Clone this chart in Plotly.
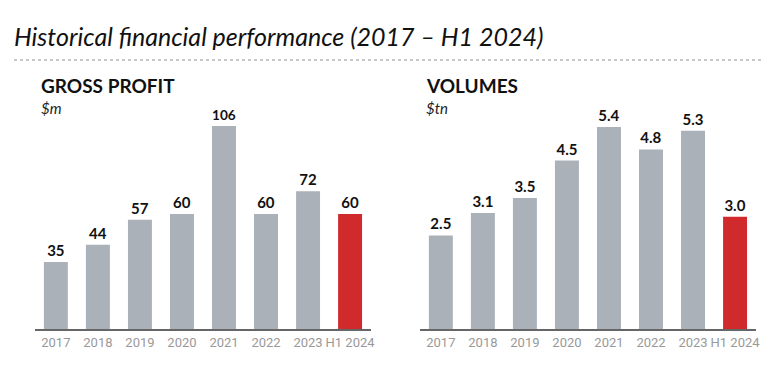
import plotly.graph_objects as go

categories = ["2017", "2018", "2019", "2020", "2021", "2022", "2023", "H1 2024"]
gross_profit = [35, 44, 57, 60, 106, 60, 72, 60]
volumes = [2.5, 3.1, 3.5, 4.5, 5.4, 4.8, 5.3, 3.0]
gp_labels = ["35", "44", "57", "60", "106", "60", "72", "60"]
vol_labels = ["2.5", "3.1", "3.5", "4.5", "5.4", "4.8", "5.3", "3.0"]

GRAY = "#aab1b9"
RED = "#d12a2d"
colors = [GRAY] * 7 + [RED]

OFF = 8  # page body margin
W, H = 772 - OFF, 376 - OFF
def px_x(p): return (p - OFF) / W
def px_y(p): return 1 - (p - OFF) / H

fig = go.Figure()
for vals, labs, xa, ya in [(gross_profit, gp_labels, "x", "y"), (volumes, vol_labels, "x2", "y2")]:
    fig.add_trace(go.Bar(x=categories, y=vals, text=labs, texttemplate="<b>%{text}</b>",
                         marker_color=colors, marker_line_width=0, textposition="outside",
                         cliponaxis=False, textfont=dict(family="Lato", size=15, color="#111"),
                         xaxis=xa, yaxis=ya, hoverinfo="skip"))

ydom = [px_y(329), px_y(100)]
xcommon = dict(type="category", showgrid=False, zeroline=False, showline=True, linecolor="#666",
               linewidth=2, ticks="", tickangle=0,
               tickfont=dict(family="Liberation Sans Narrow, Roboto, Lato", size=13, color="#999"),
               range=[-0.5, 7.5], fixedrange=True)
ycommon = dict(visible=False, showgrid=False, zeroline=False, fixedrange=True, domain=ydom)

fig.update_layout(
    width=W, height=H, margin=dict(l=0, r=0, t=0, b=0),
    paper_bgcolor="white", plot_bgcolor="white", showlegend=False,
    bargap=0.43,
    xaxis=dict(domain=[px_x(35), px_x(373)], anchor="y", **xcommon),
    yaxis=dict(range=[0, 119.6], anchor="x", **ycommon),
    xaxis2=dict(domain=[px_x(422), px_x(760)], anchor="y2", **xcommon),
    yaxis2=dict(range=[0, 6.12], anchor="x2", **ycommon),
)

annos = [
    dict(text="<i>Historical financial performance (2017 – H1 2024)</i>", x=px_x(12), y=px_y(19),
         font=dict(family="Lato", size=25, color="#111")),
    dict(text="<b>GROSS PROFIT</b>", x=px_x(39), y=px_y(72), font=dict(family="Lato", size=19, color="#111")),
    dict(text="<i>$m</i>", x=px_x(39), y=px_y(97), font=dict(family="Lato", size=15, color="#222")),
    dict(text="<b>VOLUMES</b>", x=px_x(426), y=px_y(72), font=dict(family="Lato", size=19, color="#111")),
    dict(text="<i>$tn</i>", x=px_x(426), y=px_y(97), font=dict(family="Lato", size=15, color="#222")),
]
for a in annos:
    fig.add_annotation(xref="paper", yref="paper", xanchor="left", yanchor="top", showarrow=False, **a)

fig.add_shape(type="line", xref="paper", yref="paper", x0=px_x(14), x1=1, y0=px_y(60), y1=px_y(60),
              line=dict(color="#b5b5b5", width=1.5, dash="dot"))

fig.write_html("out.html")
